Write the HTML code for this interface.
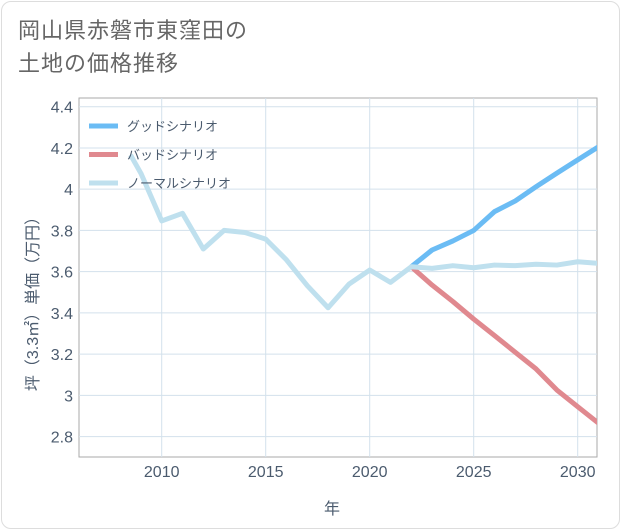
<!DOCTYPE html>
<html><head><meta charset="utf-8"><style>
body{margin:0;width:621px;height:530px;background:#fff;font-family:"Liberation Sans","Noto Sans CJK JP",sans-serif;overflow:hidden}
.card{position:absolute;left:1px;top:1px;width:617px;height:526px;border:1px solid #ddd;border-radius:10px;background:#fff}
.title{position:absolute;left:18px;top:14px;font-size:22px;line-height:33px;color:#666;letter-spacing:1px}
svg{position:absolute;left:0;top:0}
</style></head><body>
<div class="card"></div>
<div class="title">岡山県赤磐市東窪田の<br>土地の価格推移</div>
<svg id="chart" width="621" height="530"></svg>
<script>
const years=[2008.5,2009,2010,2011,2012,2013,2014,2015,2016,2017,2018,2019,2020,2021,2022,2023,2024,2025,2026,2027,2028,2029,2030,2031];
const normal=[4.166,4.077,3.846,3.883,3.71,3.80,3.79,3.758,3.657,3.532,3.425,3.539,3.608,3.548,3.624,3.616,3.629,3.619,3.632,3.629,3.636,3.632,3.648,3.640];
const goodYears=[2022,2023,2024,2025,2026,2027,2028,2029,2030,2031];
const good=[3.624,3.705,3.749,3.80,3.891,3.943,4.012,4.078,4.142,4.206];
const bad=[3.624,3.535,3.455,3.37,3.29,3.209,3.128,3.026,2.945,2.865];
const xTicks=[2010,2015,2020,2025,2030];
const yTicks=[2.8,3,3.2,3.4,3.6,3.8,4,4.2,4.4];
const yLabels=["2.8","3","3.2","3.4","3.6","3.8","4","4.2","4.4"];
const L=79,R=597,T=98,B=457;
const TXT='#4b5b6e';
const x=v=>161.7+(v-2010)*20.8;
const y=v=>106.7+(4.4-v)*206.2;
const svg=document.getElementById('chart');
const NS='http://www.w3.org/2000/svg';
function mk(t,a){const e=document.createElementNS(NS,t);for(const k in a)e.setAttribute(k,a[k]);svg.appendChild(e);return e;}
const bg=mk('rect',{x:L,y:T,width:R-L,height:B-T,fill:'#fff',stroke:'#aaa','stroke-width':1});


yTicks.forEach((t,i)=>{
 const g=mk('line',{x1:L,x2:R,y1:y(t),y2:y(t),stroke:'#d3e1ec','stroke-width':1});
 
 
 const tx=mk('text',{x:73,y:y(t)+6,'text-anchor':'end','font-size':16,fill:TXT});
 tx.textContent=yLabels[i];
 
 
});
xTicks.forEach(t=>{
 const g=mk('line',{x1:x(t),x2:x(t),y1:T,y2:B,stroke:'#d3e1ec','stroke-width':1});
 
 
 const tx=mk('text',{x:x(t),y:477,'text-anchor':'middle','font-size':16,fill:TXT});
 tx.textContent=t;
 
 
});
const clip=mk('clipPath',{id:'c'});
const cr=document.createElementNS(NS,'rect');cr.setAttribute('x',L);cr.setAttribute('y',T);cr.setAttribute('width',R-L);cr.setAttribute('height',B-T);clip.appendChild(cr);
function line(xs,vs,col,name){
 const p=mk('polyline',{points:xs.map((v,i)=>x(v)+','+y(vs[i])).join(' '),fill:'none',stroke:col,'stroke-width':5,'stroke-linejoin':'round','clip-path':'url(#c)'});
 
 
}
line(goodYears,bad,'#e0898f','bad-scenario-line');
line(goodYears,good,'#6bbcf4','good-scenario-line');
line(years,normal,'#bfe0ee','normal-scenario-line');
const leg=[['グッドシナリオ','#6bbcf4'],['バッドシナリオ','#e0898f'],['ノーマルシナリオ','#bfe0ee']];
leg.forEach((l,i)=>{
 const yy=126+i*28.5;
 const s=mk('line',{x1:89,x2:118,y1:yy,y2:yy,stroke:l[1],'stroke-width':5});
 
 
 const t=mk('text',{x:127,y:yy+5,'font-size':13,fill:TXT});
 t.textContent=l[0];
 
 
});
const xt=mk('text',{x:332,y:514,'text-anchor':'middle','font-size':16,fill:TXT});
xt.textContent='年';


const yt=mk('text',{x:0,y:0,'text-anchor':'middle','font-size':16,fill:TXT,transform:'translate(38,300) rotate(-90)'});
yt.textContent='坪（3.3㎡）単価（万円）';


</script>
</body></html>
